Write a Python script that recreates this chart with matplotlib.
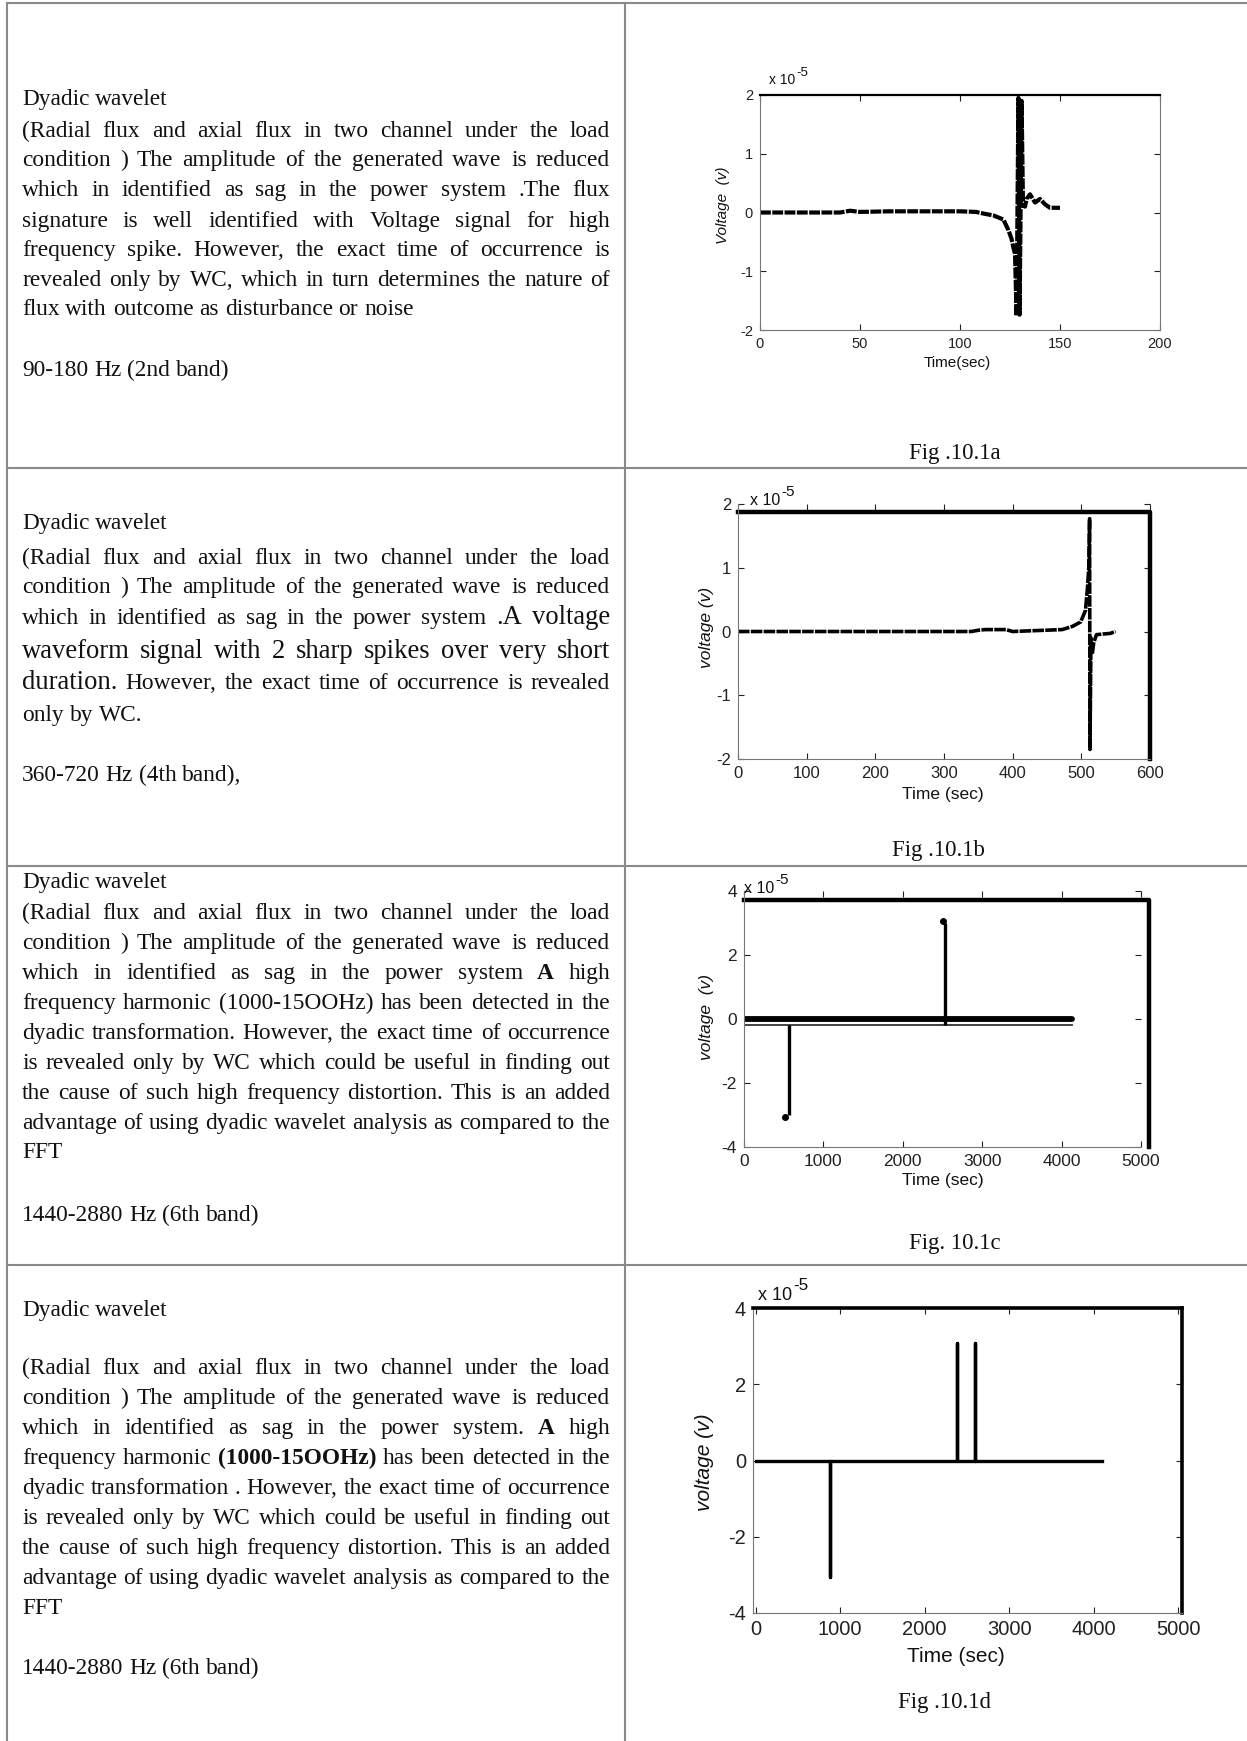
"""Dyadic wavelet band results: description column beside voltage traces."""

import matplotlib

matplotlib.use("Agg")
import matplotlib.pyplot as plt
from matplotlib.lines import Line2D

W_PX, H_PX = 1247, 1741
DPI = 100
SERIF = "Liberation Serif"
SANS = "Liberation Sans"
BODY_PT = 16.8
LARGE_PT = 19.2
LINE_COLOR = "#8a8a8a"

plt.rcParams["font.family"] = SANS
plt.rcParams["axes.unicode_minus"] = False

# ---- descriptive text, one list of printed lines per table row ----
# word prefixes: "*" bold, "+" larger type
ROW1_LINES = [
    "(Radial flux and axial flux in two channel under the load",
    "condition ) The amplitude of the generated wave is reduced",
    "which in identified as sag in the power system .The flux",
    "signature is well identified with Voltage signal for high",
    "frequency spike. However, the exact time of occurrence is",
    "revealed only by WC, which in turn determines the nature of",
    "flux with outcome as disturbance or noise",
]
ROW2_LINES = [
    "(Radial flux and axial flux in two channel under the load",
    "condition ) The amplitude of the generated wave is reduced",
    "which in identified as sag in the power system +.A +voltage",
    "+waveform +signal +with +2 +sharp +spikes +over +very +short",
    "+duration. However, the exact time of occurrence is revealed",
    "only by WC.",
]
ROW3_LINES = [
    "(Radial flux and axial flux in two channel under the load",
    "condition ) The amplitude of the generated wave is reduced",
    "which in identified as sag in the power system *A high",
    "frequency harmonic (1000-15OOHz) has been detected in the",
    "dyadic transformation. However, the exact time of occurrence",
    "is revealed only by WC which could be useful in finding out",
    "the cause of such high frequency distortion. This is an added",
    "advantage of using dyadic wavelet analysis as compared to the",
    "FFT",
]
ROW4_LINES = [
    "(Radial flux and axial flux in two channel under the load",
    "condition ) The amplitude of the generated wave is reduced",
    "which in identified as sag in the power system. *A high",
    "frequency harmonic *(1000-15OOHz) has been detected in the",
    "dyadic transformation . However, the exact time of occurrence",
    "is revealed only by WC which could be useful in finding out",
    "the cause of such high frequency distortion. This is an added",
    "advantage of using dyadic wavelet analysis as compared to the",
    "FFT",
]
HEADING = "Dyadic wavelet"
BANDS = ["90-180 Hz (2nd band)", "360-720 Hz (4th band),",
         "1440-2880 Hz (6th band)", "1440-2880 Hz (6th band)"]
CAPTIONS = ["Fig .10.1a", "Fig .10.1b", "Fig. 10.1c", "Fig .10.1d"]

# ---- voltage traces, values in units of 1e-5 V ----
A_TIME = [0, 20, 40, 45, 50, 65, 80, 100, 108, 112, 116.7, 121.7, 124.2, 125.8,
          126.7, 127.5, 128.3, 129.2, 129.8, 130.8, 131.5, 132.5, 133.3, 135,
          137.5, 140, 142.5, 145, 150]
A_VOLT = [0, 0, 0, 0.03, 0.01, 0.02, 0.02, 0.02, 0.01, -0.02, -0.05, -0.12, -0.3,
          -0.45, -0.6, -0.7, -1.76, 1.95, -1.74, 1.9, 0.12, 0.1, 0.23, 0.31,
          0.17, 0.23, 0.14, 0.08, 0.08]

B_TIME = [0, 200, 340, 350, 360, 390, 400, 472, 487, 499, 506, 509, 511, 512,
          512.6, 514, 516, 518, 522, 531, 542, 550]
B_VOLT = [0, 0, 0, 0.02, 0.03, 0.03, 0, 0.03, 0.08, 0.15, 0.33, 0.69, 1.03, 1.77,
          -1.85, -0.1, -0.35, -0.18, -0.05, -0.04, -0.03, 0]
B_FRAME_LEVEL = 1.88
B_FRAME_END = 600

C_ZERO_TIME = [0, 4130]
C_ZERO_VOLT = [0, 0]
C_BASE_TIME = [0, 4130]
C_BASE_VOLT = [-0.2, -0.2]
C_SPIKE_TIME = [571, 2534]
C_SPIKE_VOLT = [-3.0, 3.0]
C_PEAK_TIME = [517, 2504]
C_PEAK_VOLT = [-3.05, 3.05]
C_FRAME_LEVEL = 3.72
C_FRAME_END = 5100

D_TIME = [0, 876, 876, 876, 2380, 2380, 2380, 2600, 2600, 2600, 4095]
D_VOLT = [0, 0, -3.05, 0, 0, 3.08, 0, 0, 3.08, 0, 0]

fig = plt.figure(figsize=(W_PX / DPI, H_PX / DPI), dpi=DPI)
renderer = fig.canvas.get_renderer()


def fx(px):
    return px / W_PX


def fy(py):
    return 1.0 - py / H_PX


def hline(x0, x1, y):
    fig.add_artist(Line2D([fx(x0), fx(x1)], [fy(y), fy(y)], color=LINE_COLOR, lw=1.5))


def vline(x, y0, y1):
    fig.add_artist(Line2D([fx(x), fx(x)], [fy(y0), fy(y1)], color=LINE_COLOR, lw=1.5))


def word_text(word):
    size, weight = BODY_PT, "normal"
    if word.startswith("*"):
        word, weight = word[1:], "bold"
    elif word.startswith("+"):
        word, size = word[1:], LARGE_PT
    t = fig.text(0, 0, word, fontsize=size, family=SERIF, weight=weight,
                 color="#111111", va="baseline", ha="left")
    return t, t.get_window_extent(renderer).width, size


def text_line(line, x0, x1, baseline, justify):
    pieces = [word_text(w) for w in line.split()]
    total = sum(p[1] for p in pieces)
    if justify and len(pieces) > 1:
        gap = (x1 - x0 - total) / (len(pieces) - 1)
    else:
        gap = 0.25 * BODY_PT * DPI / 72
    x = x0
    for t, width, _ in pieces:
        t.set_position((fx(x), fy(baseline)))
        x += width + gap


def paragraph(lines, baselines, x0=22, x1=610):
    for i, (line, base) in enumerate(zip(lines, baselines)):
        text_line(line, x0, x1, base, justify=i < len(lines) - 1)


# table rules
hline(7, W_PX, 3)
for y in (468, 866, 1265):
    hline(7, W_PX, y)
vline(7, 3, H_PX)
vline(625, 3, H_PX)

# left column
heading_y = [105, 529, 888, 1316]
band_y = [376, 781, 1221, 1674]
body_y = [
    [137, 166, 196, 227, 256, 286, 315],
    [564, 593, 624, 658, 689, 721],
    [919, 949, 979, 1009, 1039, 1069, 1099, 1129, 1158],
    [1374, 1404, 1434, 1464, 1494, 1524, 1554, 1584, 1614],
]
for lines, hy, by, band, ys in zip([ROW1_LINES, ROW2_LINES, ROW3_LINES, ROW4_LINES],
                                   heading_y, band_y, BANDS, body_y):
    text_line(HEADING, 22, 610, hy, justify=False)
    paragraph(lines, ys)
    text_line(band, 22, 610, by, justify=False)

caption_pos = [(955, 459), (938, 856), (955, 1249), (944, 1708)]
for cap, (cx, cy) in zip(CAPTIONS, caption_pos):
    fig.text(fx(cx), fy(cy), cap, fontsize=16.5, family=SERIF, ha="center",
             va="baseline", color="#111111")


def panel(box, xlim, ylim, xticks, yticks, size):
    left, top, right, bottom = box
    ax = fig.add_axes([fx(left), fy(bottom), (right - left) / W_PX, (bottom - top) / H_PX])
    ax.set_xlim(*xlim)
    ax.set_ylim(*ylim)
    ax.set_xticks(xticks)
    ax.set_yticks(yticks)
    ax.set_xticklabels([str(v) for v in xticks])
    ax.set_yticklabels([str(v) for v in yticks])
    ax.tick_params(direction="in", length=4, width=0.8, top=True, right=True,
                   labelsize=size, colors="#222222", pad=5)
    for side in ("left", "bottom", "right", "top"):
        ax.spines[side].set_color("#777777")
        ax.spines[side].set_linewidth(0.8)
    return ax


def axis_labels(ax, box, xlabel, xpos, ylabel, ypos, size):
    left, top, right, bottom = box
    ax.set_xlabel(xlabel, fontsize=size, color="#111111")
    ax.set_ylabel(ylabel, fontsize=size, color="#111111", style="italic")
    ax.xaxis.set_label_coords((xpos[0] - left) / (right - left),
                              (bottom - xpos[1]) / (bottom - top))
    ax.yaxis.set_label_coords((ypos[0] - left) / (right - left),
                              (bottom - ypos[1]) / (bottom - top))
    ax.xaxis.label.set_va("center")
    ax.yaxis.label.set_va("center")


def scale_note(x, y, size):
    """'x 10' with a raised -5 exponent, baseline at pixel row y."""
    base = fig.text(fx(x), fy(y), "x 10", fontsize=size, ha="left", va="baseline",
                    color="#111111")
    width = base.get_window_extent(renderer).width
    fig.text(fx(x + width + 1), fy(y - 0.55 * size * DPI / 72), "-5",
             fontsize=size * 0.95, ha="left", va="baseline", color="#111111")


# Fig 10.1a
box_a = (760, 95, 1160, 330)
ax = panel(box_a, (0, 200), (-2, 2), [0, 50, 100, 150, 200], [-2, -1, 0, 1, 2], 10.5)
ax.spines["top"].set_color("black")
ax.spines["top"].set_linewidth(1.6)
ax.plot(A_TIME, A_VOLT, color="black", lw=3.0, dashes=(2.6, 0.35))
axis_labels(ax, box_a, "Time(sec)", (957, 363), "Voltage  (v)", (723, 205), 11)
scale_note(769, 84, 10)

# Fig 10.1b
box_b = (738, 504, 1150, 759)
ax = panel(box_b, (0, 600), (-2, 2), [0, 100, 200, 300, 400, 500, 600],
           [-2, -1, 0, 1, 2], 12)
ax.spines["top"].set_visible(False)
ax.spines["right"].set_visible(False)
ax.plot(B_TIME, B_VOLT, color="black", lw=2.6, dashes=(3.2, 0.35))
ax.plot([0, B_FRAME_END, B_FRAME_END], [B_FRAME_LEVEL, B_FRAME_LEVEL, -2],
        color="black", lw=3.2, clip_on=False)
axis_labels(ax, box_b, "Time (sec)", (943, 794), "voltage (v)", (707, 627), 12.5)
scale_note(750, 505, 11.5)

# Fig 10.1c
box_c = (744, 891, 1141, 1147)
ax = panel(box_c, (0, 5000), (-4, 4), [0, 1000, 2000, 3000, 4000, 5000],
           [-4, -2, 0, 2, 4], 12.5)
ax.spines["top"].set_visible(False)
ax.spines["right"].set_visible(False)
ax.plot(C_ZERO_TIME, C_ZERO_VOLT, color="black", lw=4.2, solid_capstyle="round")
ax.plot(C_BASE_TIME, C_BASE_VOLT, color="#333333", lw=1.3)
ax.vlines(C_SPIKE_TIME, C_BASE_VOLT[0], C_SPIKE_VOLT, color="black", lw=2.4)
ax.plot(C_PEAK_TIME, C_PEAK_VOLT, "o", color="black", ms=4)
ax.plot([0, C_FRAME_END, C_FRAME_END], [C_FRAME_LEVEL, C_FRAME_LEVEL, -4],
        color="black", lw=3.2, clip_on=False)
axis_labels(ax, box_c, "Time (sec)", (943, 1181), "voltage  (v)", (707, 1017), 12.5)
scale_note(744, 893, 11.5)

# Fig 10.1d
box_d = (753, 1308, 1182, 1613)
ax = panel(box_d, (-30, 5045), (-4, 4), [0, 1000, 2000, 3000, 4000, 5000],
           [-4, -2, 0, 2, 4], 14.5)
for side in ("top", "right"):
    ax.spines[side].set_color("black")
    ax.spines[side].set_linewidth(2.6)
ax.plot(D_TIME, D_VOLT, color="black", lw=2.4)
axis_labels(ax, box_d, "Time (sec)", (956, 1657), "voltage (v)", (704, 1462), 15)
scale_note(758, 1300, 13)

fig.savefig("out.png", dpi=DPI, facecolor="white")
